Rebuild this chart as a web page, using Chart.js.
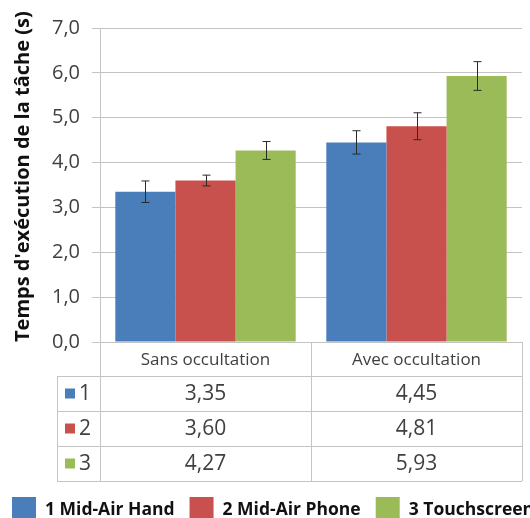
<!DOCTYPE html>
<html>
<head>
<meta charset="utf-8">
<script src="https://cdn.jsdelivr.net/npm/chart.js@4/dist/chart.umd.min.js"></script>
<style>
  html, body { margin: 0; padding: 0; background: #fff; overflow: hidden; }
</style>
</head>
<body>
<canvas id="myChart" width="530" height="518"></canvas>
<script>
const categories = ["Sans occultation", "Avec occultation"];
const seriesNames = ["1 Mid-Air Hand", "2 Mid-Air Phone", "3 Touchscreen"];
const seriesKeys = ["1", "2", "3"];
const handValues = [3.35, 4.45];
const phoneValues = [3.60, 4.81];
const touchValues = [4.27, 5.93];
const handErrors = [0.24, 0.26];
const phoneErrors = [0.12, 0.30];
const touchErrors = [0.20, 0.32];
const seriesColors = ["#4a7ebb", "#c8504d", "#9bbb59"];

const allValues = [handValues, phoneValues, touchValues];
const allErrors = [handErrors, phoneErrors, touchErrors];
const lineColor = "#c4c4c4";
const textColor = "#404040";

function frNum(v, digits) {
  return v.toFixed(digits).replace(".", ",");
}

// error bars on top of each bar
const errorBars = {
  id: "errorBars",
  afterDatasetsDraw(chart) {
    const {ctx, scales: {y}} = chart;
    ctx.save();
    ctx.strokeStyle = "#2a2a2a";
    ctx.lineWidth = 1;
    chart.data.datasets.forEach((ds, i) => {
      const meta = chart.getDatasetMeta(i);
      meta.data.forEach((bar, j) => {
        const v = ds.data[j];
        const e = allErrors[i][j];
        const x = Math.round(bar.x) + 0.5;
        const top = y.getPixelForValue(v + e);
        const bot = y.getPixelForValue(v - e);
        ctx.beginPath();
        ctx.moveTo(x, top); ctx.lineTo(x, bot);
        ctx.moveTo(x - 4, top); ctx.lineTo(x + 4, top);
        ctx.moveTo(x - 4, bot); ctx.lineTo(x + 4, bot);
        ctx.stroke();
      });
    });
    ctx.restore();
  }
};

// data table under the plot + legend at the bottom
const dataTable = {
  id: "dataTable",
  afterDraw(chart) {
    const {ctx, chartArea: {left, right, bottom}, scales: {x}} = chart;
    const headH = 34, rowH = 35;
    const tableLeft = 57;
    const catW = (right - left) / categories.length;
    const tableBottom = bottom + headH + rowH * seriesKeys.length;
    ctx.save();
    ctx.strokeStyle = lineColor;
    ctx.lineWidth = 1;
    ctx.beginPath();
    // vertical lines
    for (let i = 0; i <= categories.length; i++) {
      const lx = Math.round(left + i * catW) + 0.5;
      ctx.moveTo(lx, bottom);
      ctx.lineTo(lx, tableBottom);
    }
    ctx.moveTo(tableLeft + 0.5, bottom + headH);
    ctx.lineTo(tableLeft + 0.5, tableBottom);
    // horizontal lines
    for (let r = 0; r <= seriesKeys.length; r++) {
      const ly = Math.round(bottom + headH + r * rowH) + 0.5;
      ctx.moveTo(tableLeft, ly);
      ctx.lineTo(right, ly);
    }
    ctx.stroke();

    ctx.fillStyle = textColor;
    ctx.textBaseline = "middle";
    ctx.textAlign = "center";
    ctx.font = "17px 'Open Sans'";
    categories.forEach((c, i) => {
      ctx.fillText(c, x.getPixelForValue(i), bottom + headH / 2 + 1);
    });
    ctx.font = "21px 'Open Sans'";
    seriesKeys.forEach((k, r) => {
      const cy = bottom + headH + r * rowH + rowH / 2;
      ctx.fillStyle = seriesColors[r];
      ctx.fillRect(65, cy - 5, 10, 10);
      ctx.fillStyle = textColor;
      ctx.textAlign = "left";
      ctx.fillText(k, 79, cy + 1);
      ctx.textAlign = "center";
      allValues[r].forEach((v, i) => {
        ctx.fillText(frNum(v, 2), x.getPixelForValue(i), cy + 1);
      });
    });

    // legend
    ctx.font = "bold 17.5px 'Open Sans'";
    ctx.textAlign = "left";
    let lx = 12;
    const ly = 510;
    seriesNames.forEach((name, i) => {
      ctx.fillStyle = seriesColors[i];
      ctx.fillRect(lx, ly - 13, 24, 26);
      ctx.fillStyle = "#111";
      ctx.fillText(name, lx + 33, ly);
      lx += 33 + ctx.measureText(name).width + 15;
    });
    ctx.restore();
  }
};

const data = {
  labels: categories,
  datasets: seriesNames.map((name, i) => ({
    label: name,
    data: allValues[i],
    backgroundColor: seriesColors[i],
    borderWidth: 0,
    barPercentage: 1.0,
    categoryPercentage: 0.855
  }))
};

const config = {
  type: "bar",
  data,
  options: {
    responsive: false,
    animation: false,
    layout: {
      padding: { top: 28, right: 8, left: 0, bottom: 0 }
    },
    scales: {
      x: {
        grid: { display: false },
        border: { display: false },
        ticks: { display: false },
        afterFit(scale) { scale.height = 176; }
      },
      y: {
        min: 0,
        max: 7,
        ticks: {
          stepSize: 1,
          padding: 12,
          color: textColor,
          font: { family: "'Open Sans'", size: 20 },
          callback: (v) => frNum(v, 1)
        },
        grid: { color: lineColor, tickLength: 8, tickColor: lineColor },
        border: { color: lineColor },
        title: {
          display: true,
          text: "Temps d'exécution de la tâche (s)",
          color: "#111",
          align: "start",
          font: { family: "'Open Sans'", size: 20, weight: "bold" },
          padding: { top: 11, bottom: 0 }
        },
        afterFit(scale) { scale.width = 100; }
      }
    },
    plugins: {
      legend: { display: false },
      tooltip: { enabled: false }
    }
  },
  plugins: [errorBars, dataTable]
};

const myChart = new Chart(document.getElementById("myChart"), config);
</script>
</body>
</html>
